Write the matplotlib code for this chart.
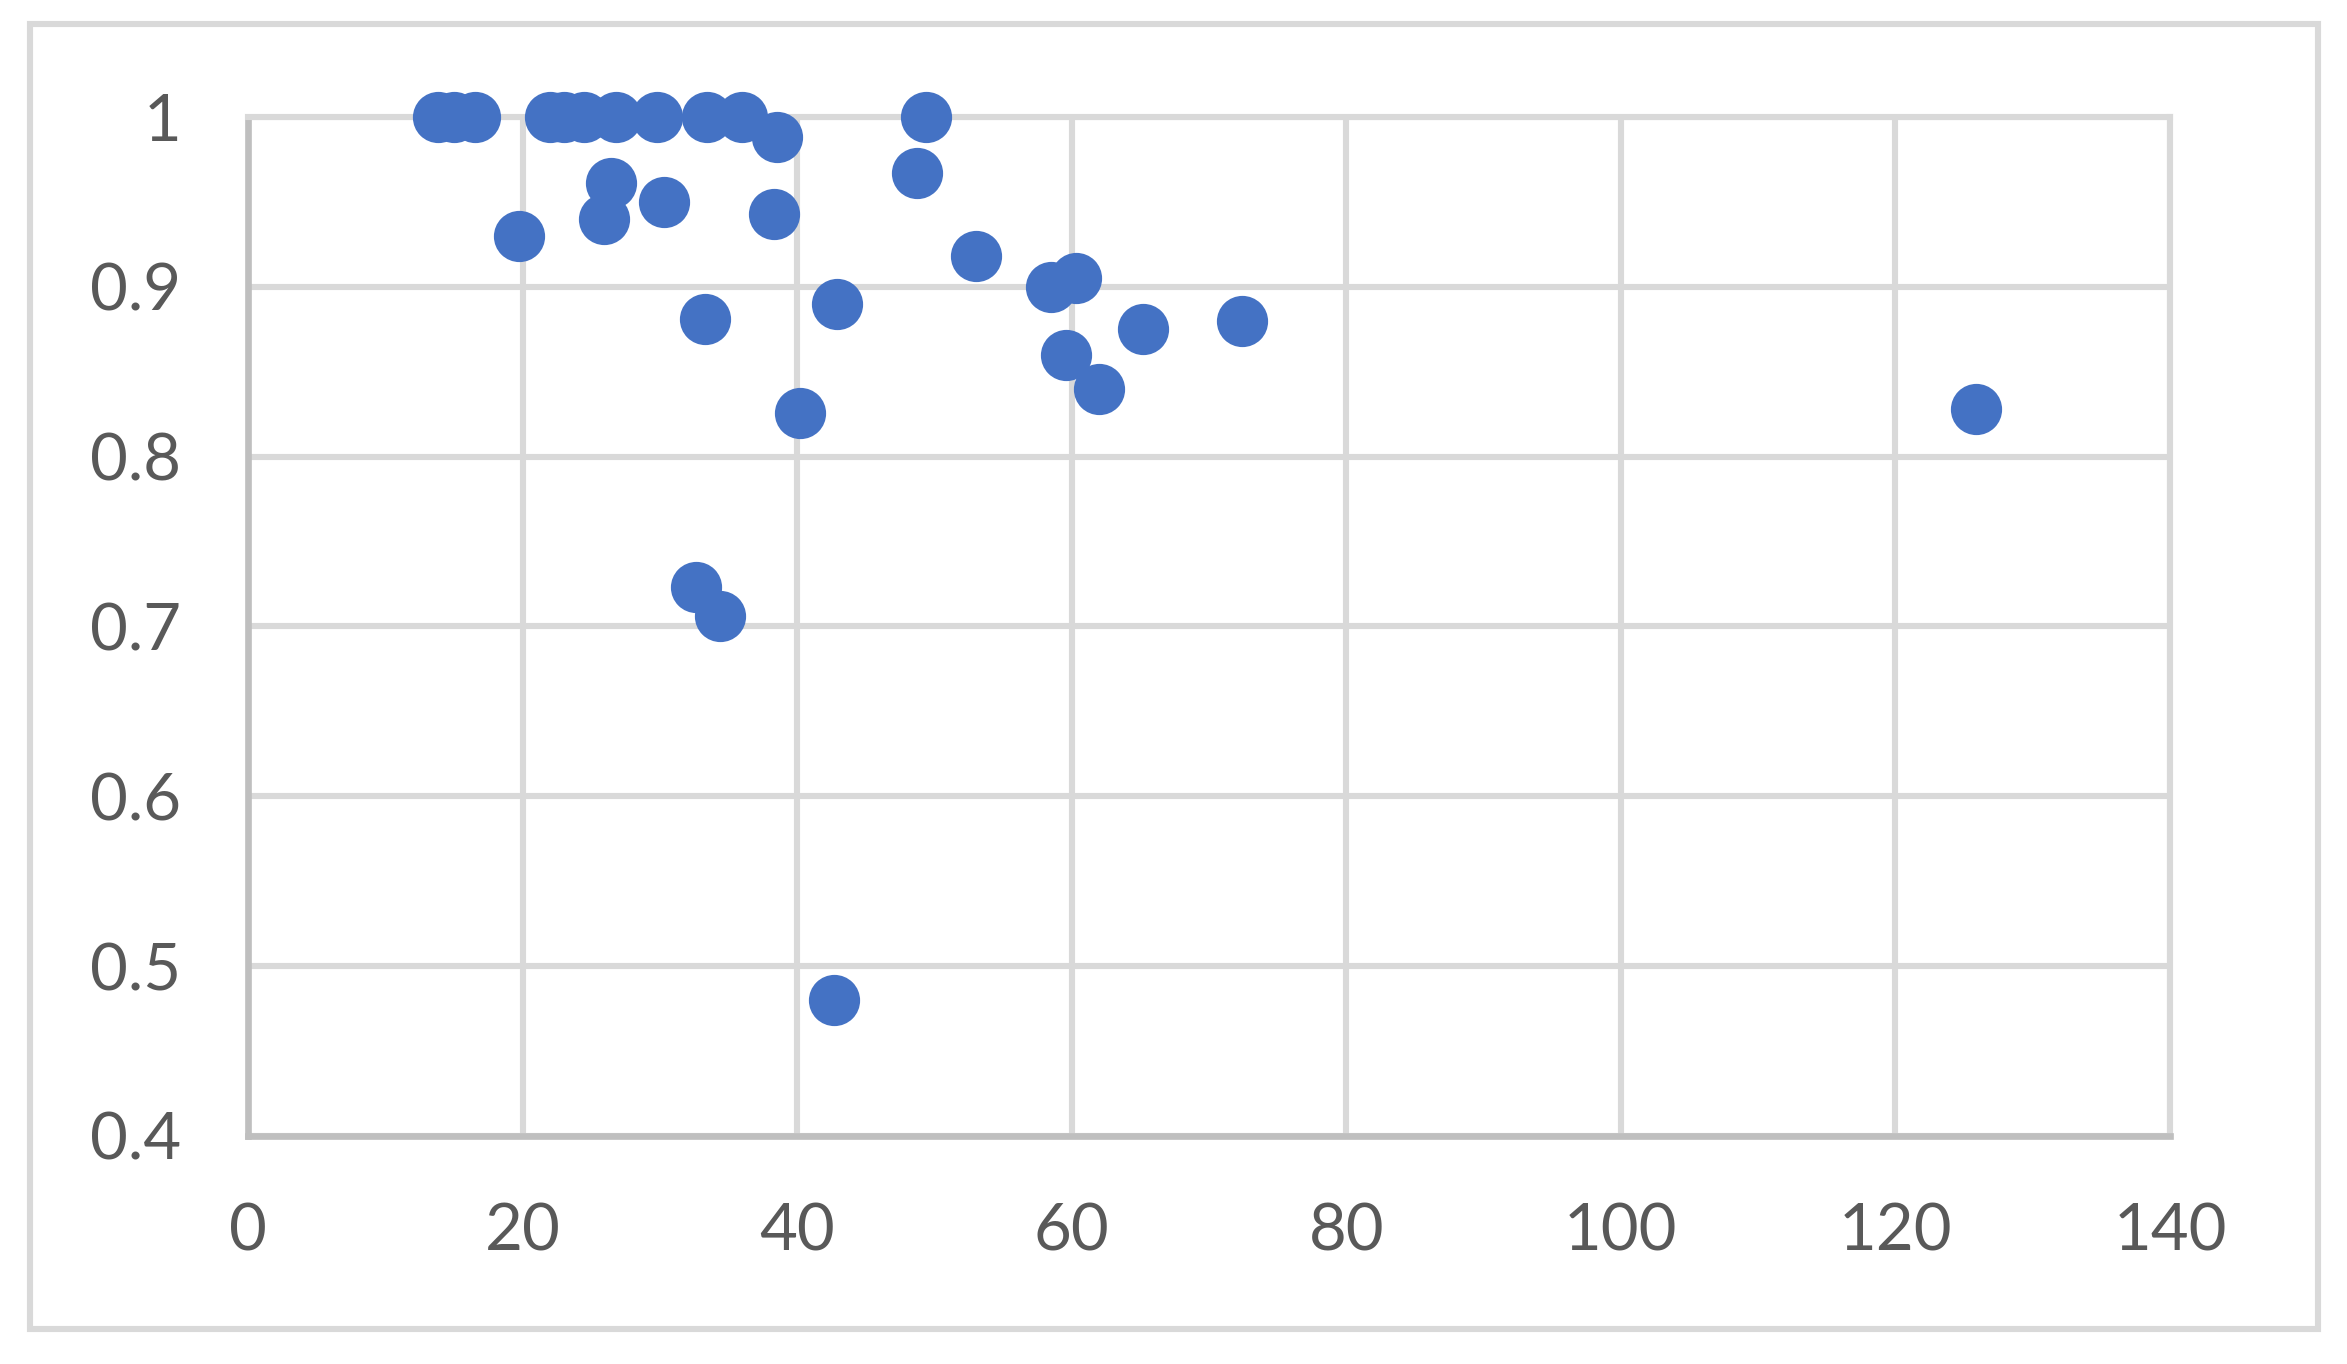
import matplotlib
matplotlib.use("Agg")
import matplotlib.pyplot as plt
from matplotlib.patches import Rectangle

# -----------------------------
# Data
# -----------------------------
x_vals = [
    13.8, 15.0, 16.5,
    22.0, 23.0, 24.5, 26.8, 29.8, 33.4, 36.0, 49.4,
    38.5, 48.7, 26.4, 25.9, 30.3, 38.3, 19.7,
    33.3, 42.9, 53.0, 58.5, 60.3, 59.6, 62.0, 65.2, 72.4,
    40.2, 32.6, 34.4, 42.7, 125.9,
]
y_vals = [
    1.0, 1.0, 1.0,
    1.0, 1.0, 1.0, 1.0, 1.0, 1.0, 1.0, 1.0,
    0.988, 0.967, 0.961, 0.940, 0.950, 0.943, 0.930,
    0.881, 0.890, 0.918, 0.900, 0.905, 0.860, 0.840, 0.875, 0.880,
    0.826, 0.723, 0.706, 0.480, 0.828,
]
x_ticks = [0, 20, 40, 60, 80, 100, 120, 140]
y_ticks = [0.4, 0.5, 0.6, 0.7, 0.8, 0.9, 1.0]
y_tick_labels = ["0.4", "0.5", "0.6", "0.7", "0.8", "0.9", "1"]

BLUE = "#4472C4"
GRID = "#D9D9D9"
AXIS = "#BFBFBF"
TEXT = "#595959"

plt.rcParams["font.family"] = ["Lato", "DejaVu Sans"]

fig = plt.figure(figsize=(11.735, 6.82), dpi=200)
ax = fig.add_axes([0.1057, 0.1672, 0.8189, 0.7470])

ax.scatter(x_vals, y_vals, s=340, color=BLUE, linewidths=0, zorder=3, clip_on=False)

ax.set_xlim(0, 140)
ax.set_ylim(0.4, 1.0)
ax.set_xticks(x_ticks)
ax.set_yticks(y_ticks)
ax.set_yticklabels(y_tick_labels)

ax.grid(True, color=GRID, linewidth=2.2, zorder=0)
ax.set_axisbelow(True)
for side in ["top", "right"]:
    ax.spines[side].set_color(GRID)
    ax.spines[side].set_linewidth(2.2)
for side in ["left", "bottom"]:
    ax.spines[side].set_color(AXIS)
    ax.spines[side].set_linewidth(2.4)

ax.tick_params(axis="both", length=0, labelsize=23.5, labelcolor=TEXT)
ax.tick_params(axis="x", pad=24)
ax.tick_params(axis="y", pad=24)

# outer chart border
fig.patches.append(Rectangle(
    (30 / 2347, 1 - 1329 / 1364), (2318 - 30) / 2347, (1329 - 24) / 1364,
    transform=fig.transFigure, fill=False, edgecolor=GRID, linewidth=2.2
))

fig.savefig("out.png", dpi=200)
plt.close(fig)
